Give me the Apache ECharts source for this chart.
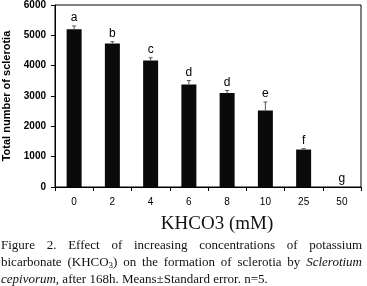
<!DOCTYPE html>
<html><head><meta charset="utf-8">
<script src="https://cdn.jsdelivr.net/npm/echarts@6/dist/echarts.min.js"></script>
<style>html,body{margin:0;padding:0;background:#fff}#c{width:367px;height:286px}</style>
</head><body><div id="c"></div>
<script>
const categories = ['0','2','4','6','8','10','25','50'];
const means = [5200, 4730, 4170, 3380, 3100, 2520, 1235, 0];
const errors = [110, 60, 90, 130, 80, 280, 30, 0];
const letters = ['a','b','c','d','d','e','f','g'];
const yTicks = [0, 1000, 2000, 3000, 4000, 5000, 6000];
const yTitle = 'Total number of sclerotia';
const xTitle = 'KHCO3 (mM)';
// caption: lines -> words -> parts [text, style]
const captionLines = [
  [[['Figure','']],[['2.','']],[['Effect','']],[['of','']],[['increasing','']],[['concentrations','']],[['of','']],[['potassium','']]],
  [[['bicarbonate','']],[['(KHCO',''],['3','sub'],[')','']],[['on','']],[['the','']],[['formation','']],[['of','']],[['sclerotia','']],[['by','']],[['Sclerotium','i']]],
  [[['cepivorum','i'],[',','']],[['after','']],[['168h.','']],[['Means±Standard','']],[['error.','']],[['n=5.','']]]
];
const justify = [true, true, false];

const chart = echarts.init(document.getElementById('c'));
const FF = '"Liberation Serif", "Times New Roman", serif';
const FS = 13;
const cv = document.createElement('canvas').getContext('2d');
function fontOf(style){ 
  if (style==='i') return 'italic '+FS+'px '+FF;
  if (style==='sub') return '9px '+FF;
  return FS+'px '+FF;
}
function wPart(p){ cv.font = fontOf(p[1]); return cv.measureText(p[0]).width; }
function wWord(w){ return w.reduce((s,p)=>s+wPart(p),0); }
const graphics = [];
const capLeft = 1, capRight = 362, lineY = [246, 263, 280];
captionLines.forEach((line, li) => {
  cv.font = fontOf('');
  const space = cv.measureText(' ').width;
  const total = line.reduce((s,w)=>s+wWord(w),0);
  let gap = space;
  if (justify[li]) gap = (capRight - capLeft - total) / (line.length - 1);
  let x = capLeft;
  line.forEach(w => {
    w.forEach(p => {
      graphics.push({type:'text', x: x, y: lineY[li] + (p[1]==='sub'?3:0), silent:true,
        style:{text:p[0], font: fontOf(p[1]), fill:'#111', align:'left', verticalAlign:'middle'}});
      x += wPart(p);
    });
    x += gap;
  });
});
graphics.push({type:'text', x:217, y:224, silent:true,
  style:{text:xTitle, font:'19px '+FF, fill:'#111', align:'center', verticalAlign:'middle'}});

chart.setOption({
  animation:false,
  grid:{left:55, right:6, top:5, bottom:99, outerBoundsMode:'none', containLabel:false,
    show:true, borderColor:'#000', borderWidth:1, backgroundColor:'transparent'},
  xAxis:{type:'category', data:categories,
    axisLine:{lineStyle:{color:'#000', width:1}},
    axisTick:{show:true, length:4, alignWithLabel:false, lineStyle:{color:'#000'}},
    axisLabel:{color:'#000', fontFamily:'Arial, "Liberation Sans", sans-serif', fontSize:10, margin:10}},
  yAxis:{type:'value', min:0, max:6000, interval:1000,
    name: yTitle, nameLocation:'middle', nameGap:37,
    nameTextStyle:{color:'#000', fontFamily:'Arial, "Liberation Sans", sans-serif', fontSize:11, fontWeight:'bold'},
    axisLine:{show:true, lineStyle:{color:'#000', width:1}},
    axisTick:{show:true, length:4, lineStyle:{color:'#000'}},
    splitLine:{show:false},
    axisLabel:{color:'#000', fontFamily:'Arial, "Liberation Sans", sans-serif', fontSize:10, fontWeight:'bold', margin:9,
      formatter: v => String(v)}},
  series:[
    {type:'bar', data:means, barWidth:15, itemStyle:{color:'#0a0a0a'}, silent:true},
    {type:'custom', silent:true, z:5,
      data: means.map((m,i)=>[i, m, errors[i]]),
      renderItem:(params, api)=>{
        const i = api.value(0), m = api.value(1), e = api.value(2);
        const p0 = api.coord([i, m]);
        const p1 = api.coord([i, m + e]);
        const children = [];
        if (e > 0) {
          children.push({type:'line', shape:{x1:p0[0], y1:p0[1], x2:p1[0], y2:p1[1]}, style:{stroke:'#555', lineWidth:1}});
          children.push({type:'line', shape:{x1:p1[0]-2, y1:p1[1], x2:p1[0]+2, y2:p1[1]}, style:{stroke:'#555', lineWidth:1}});
        }
        children.push({type:'text', x:p1[0], y:p1[1]-2, style:{text:letters[params.dataIndex], fill:'#000',
          font:'12px Arial, "Liberation Sans", sans-serif', align:'center', verticalAlign:'bottom'}});
        return {type:'group', children};
      }}
  ],
  graphic: graphics
});
</script></body></html>
